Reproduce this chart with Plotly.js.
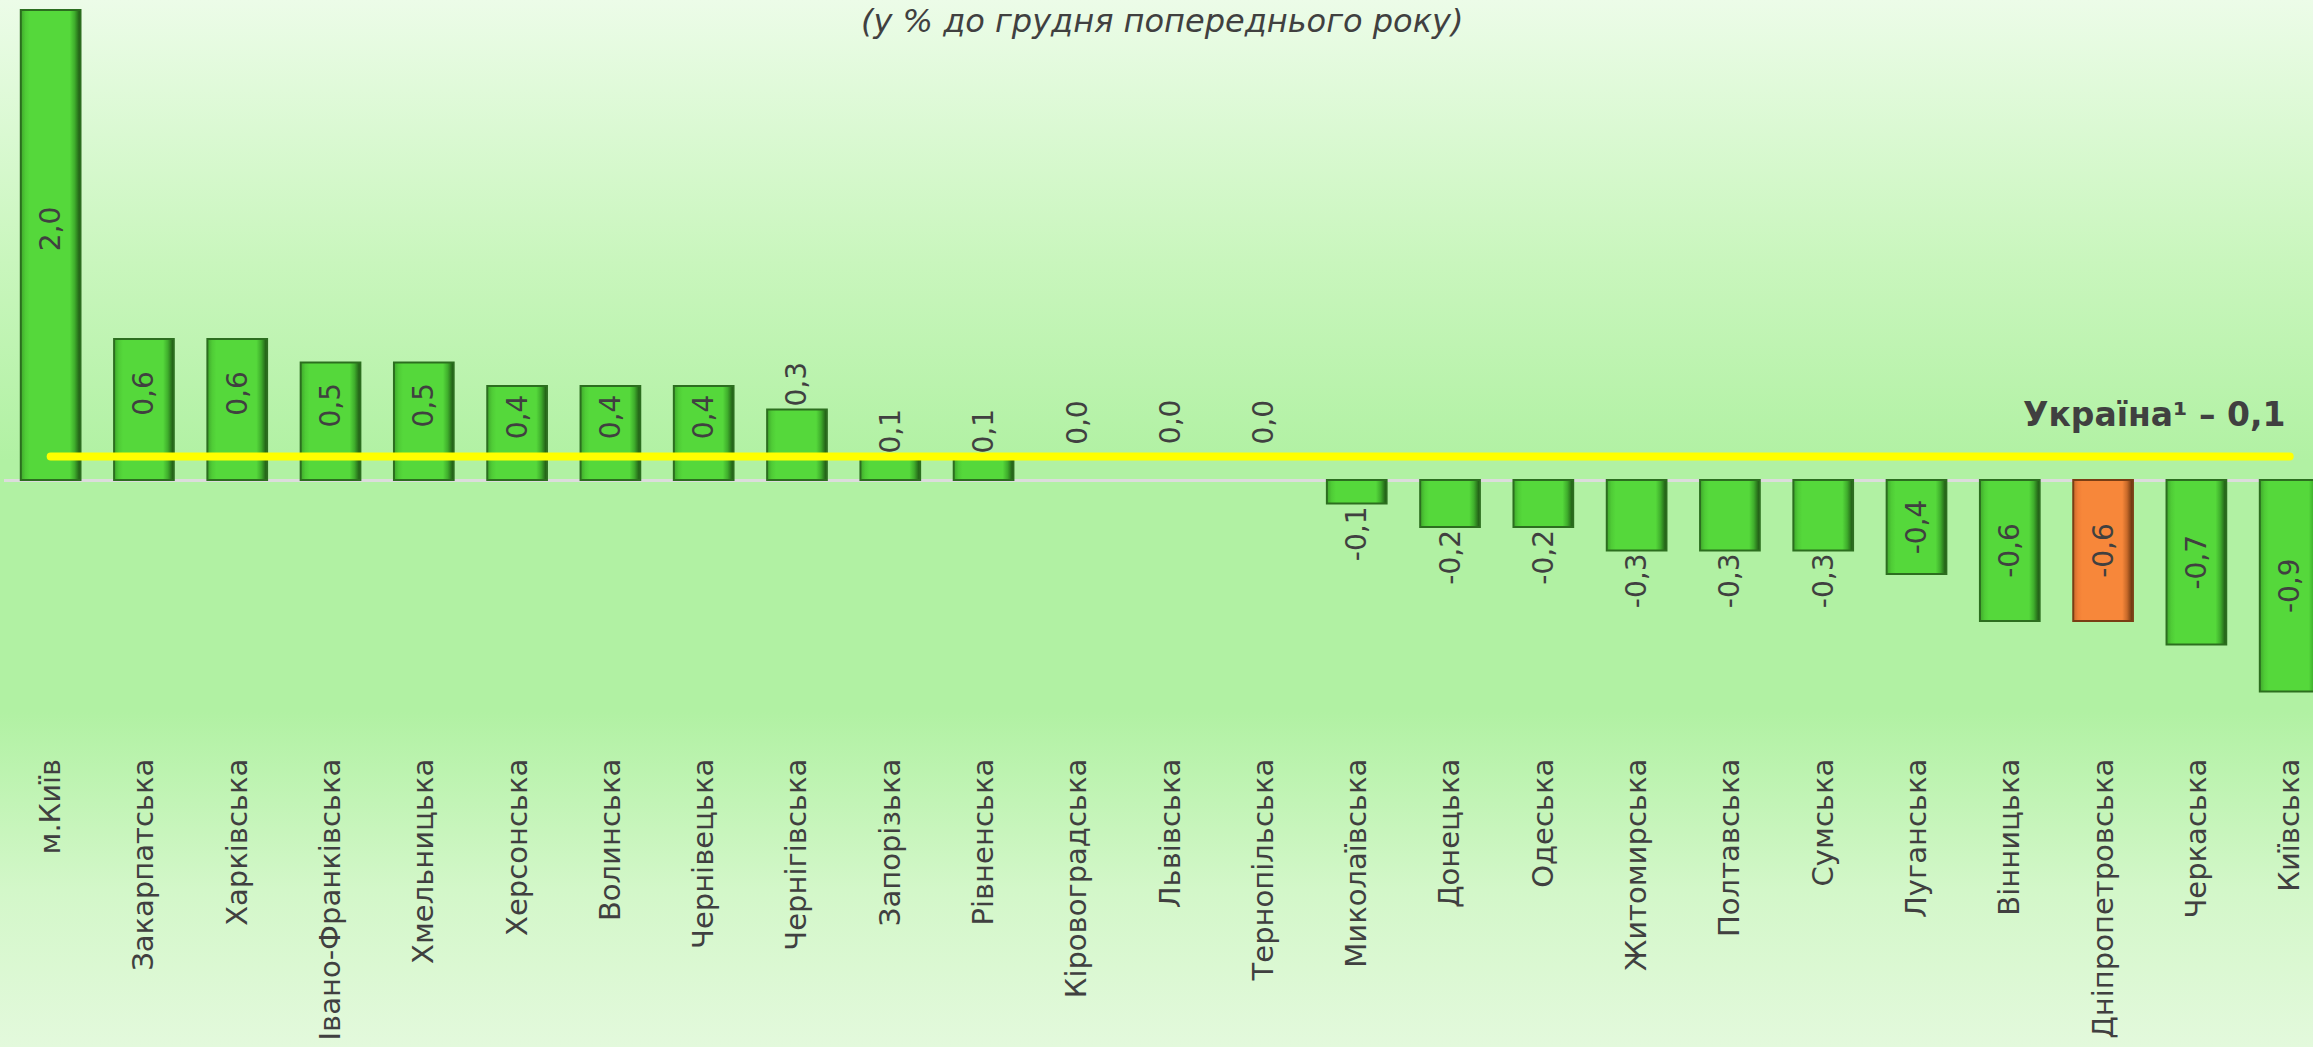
<!DOCTYPE html>
<html>
<head>
<meta charset="utf-8">
<script src="https://cdn.plot.ly/plotly-3.0.1.min.js"></script>
<style>
  html, body { margin: 0; padding: 0; }
  body {
    width: 2313px; height: 1047px; overflow: hidden;
    background: linear-gradient(to bottom, #ecfce8 0%, #c9f6bd 25%, #b1f1a3 44%, #b1f1a3 68%, #d3f7c9 85%, #e3f9dc 100%);
  }
  #chart { width: 2313px; height: 1047px; }
  .scatterlayer path.js-line { stroke-linecap: round; }
</style>
</head>
<body>
<div id="chart"></div>
<script>
// --- data ---
const regions = ["м.Київ", "Закарпатська", "Харківська", "Івано-Франківська", "Хмельницька",
  "Херсонська", "Волинська", "Чернівецька", "Чернігівська", "Запорізька", "Рівненська",
  "Кіровоградська", "Львівська", "Тернопільська", "Миколаївська", "Донецька", "Одеська",
  "Житомирська", "Полтавська", "Сумська", "Луганська", "Вінницька", "Дніпропетровська",
  "Черкаська", "Київська"];
const values = [2.0, 0.6, 0.6, 0.5, 0.5, 0.4, 0.4, 0.4, 0.3, 0.1, 0.1, 0.0, 0.0, 0.0,
  -0.1, -0.2, -0.2, -0.3, -0.3, -0.3, -0.4, -0.6, -0.6, -0.7, -0.9];
const ukraine = [0.1, 0.1, 0.1, 0.1, 0.1, 0.1, 0.1, 0.1, 0.1, 0.1, 0.1, 0.1, 0.1,
  0.1, 0.1, 0.1, 0.1, 0.1, 0.1, 0.1, 0.1, 0.1, 0.1, 0.1, 0.1];
const highlight = "Дніпропетровська";
const subtitle = "(у % до грудня попереднього року)";
const ukraineLabel = "Україна¹ – 0,1";

// --- styling ---
const textColor = "#404040";
const green = "#54d63a", greenEdge = "#2c6e1f";
const orange = "#f7863a", orangeEdge = "#7a3e14";
const fontFam = "DejaVu Sans";

const fmt = v => v.toFixed(1).replace(".", ",");
const colors = regions.map(r => r === highlight ? orange : green);
const edges = regions.map(r => r === highlight ? orangeEdge : greenEdge);
const edgeW = values.map(v => v === 0 ? 0 : 2);
const labels = values.map(v => v === 0 ? "" : fmt(v));
const positions = values.map(v => Math.abs(v) >= 0.35 ? "inside" : "outside");

const bars = {
  type: "bar",
  x: regions,
  y: values,
  text: labels,
  textposition: positions,
  insidetextanchor: "middle",
  textangle: -90,
  cliponaxis: false,
  constraintext: "none",
  textfont: { family: fontFam, size: 28, color: textColor },
  insidetextfont: { family: fontFam, size: 28, color: textColor },
  outsidetextfont: { family: fontFam, size: 28, color: textColor },
  marker: { color: colors, line: { color: edges, width: edgeW } },
  hoverinfo: "skip",
  showlegend: false
};

const line = {
  type: "scatter",
  mode: "lines",
  x: regions,
  y: ukraine,
  line: { color: "#ffff00", width: 8 },
  hoverinfo: "skip",
  showlegend: false
};

// labels for zero-value bars (no bar is drawn for them)
const zeroAnn = [];
values.forEach((v, i) => {
  if (v === 0) {
    zeroAnn.push({
      text: fmt(v), xref: "x", yref: "y", x: regions[i], y: v,
      xanchor: "center", yanchor: "middle", yshift: 58, textangle: -90,
      showarrow: false, font: { family: fontFam, size: 28, color: textColor }
    });
  }
});

const pxPerUnit = 235;
const zeroY = 480, plotBottom = 752;
const layout = {
  width: 2313, height: 1047,
  margin: { l: 4, r: 0, t: 0, b: 1047 - plotBottom, pad: 0 },
  paper_bgcolor: "rgba(0,0,0,0)",
  plot_bgcolor: "rgba(0,0,0,0)",
  bargap: 0.36,
  font: { family: fontFam, color: textColor },
  xaxis: {
    type: "category",
    range: [-0.5, 24.25],
    showgrid: false, zeroline: false, showline: false,
    ticks: "", tickangle: -90,
    tickfont: { family: fontFam, size: 29, color: textColor },
    automargin: false, fixedrange: true
  },
  yaxis: {
    range: [-(plotBottom - zeroY) / pxPerUnit, zeroY / pxPerUnit],
    showgrid: false, showticklabels: false, ticks: "",
    zeroline: true, zerolinecolor: "#dcdcdc", zerolinewidth: 3,
    automargin: false, fixedrange: true
  },
  annotations: [
    {
      text: subtitle, xref: "paper", yref: "paper", x: 0.5015, y: 1.0,
      xanchor: "center", yanchor: "top", yshift: 0, showarrow: false,
      font: { family: fontFam, size: 32, color: textColor, style: "italic" }
    },
    {
      text: "<b>" + ukraineLabel + "</b>", xref: "x", yref: "y", x: 24, y: 0.1,
      xanchor: "right", yanchor: "middle", yshift: 42, xshift: -2, showarrow: false,
      font: { family: fontFam, size: 33, color: textColor }
    }
  ].concat(zeroAnn),
  showlegend: false,
  hovermode: false
};

function addBevel(gd) {
  const svg = gd.querySelector("svg.main-svg");
  const ns = "http://www.w3.org/2000/svg";
  let defs = svg.querySelector("defs");
  if (!defs) { defs = document.createElementNS(ns, "defs"); svg.insertBefore(defs, svg.firstChild); }
  function grad(id, stops) {
    const g = document.createElementNS(ns, "linearGradient");
    g.setAttribute("id", id);
    g.setAttribute("x1", "0"); g.setAttribute("y1", "0");
    g.setAttribute("x2", "1"); g.setAttribute("y2", "0");
    stops.forEach(s => {
      const st = document.createElementNS(ns, "stop");
      st.setAttribute("offset", s[0]);
      st.setAttribute("stop-color", s[1]);
      g.appendChild(st);
    });
    defs.appendChild(g);
  }
  grad("bevelGreen", [["0", "#3fa82c"], ["0.08", "#4fcc36"], ["0.15", "#55d83b"], ["0.82", "#55d83b"], ["0.9", "#3fae2c"], ["1", "#1c4f12"]]);
  grad("bevelOrange", [["0", "#c86a2c"], ["0.08", "#f07f36"], ["0.15", "#f7873a"], ["0.82", "#f7873a"], ["0.9", "#c86a2a"], ["1", "#5a2c0c"]]);
  const points = gd.querySelectorAll(".barlayer .point");
  points.forEach((pt, i) => {
    const p = pt.querySelector("path");
    if (p) p.style.fill = colors[i] === orange ? "url(#bevelOrange)" : "url(#bevelGreen)";
    // positive labels inside bars sit a little above the bar centre
    const t = pt.querySelector("text");
    if (t && values[i] > 0 && positions[i] === "inside") {
      const tr = t.getAttribute("transform") || "";
      t.setAttribute("transform", "translate(0,-16) " + tr);
    }
  });
}

Plotly.newPlot("chart", [bars, line], layout, { displayModeBar: false, staticPlot: true })
  .then(addBevel);
</script>
</body>
</html>
